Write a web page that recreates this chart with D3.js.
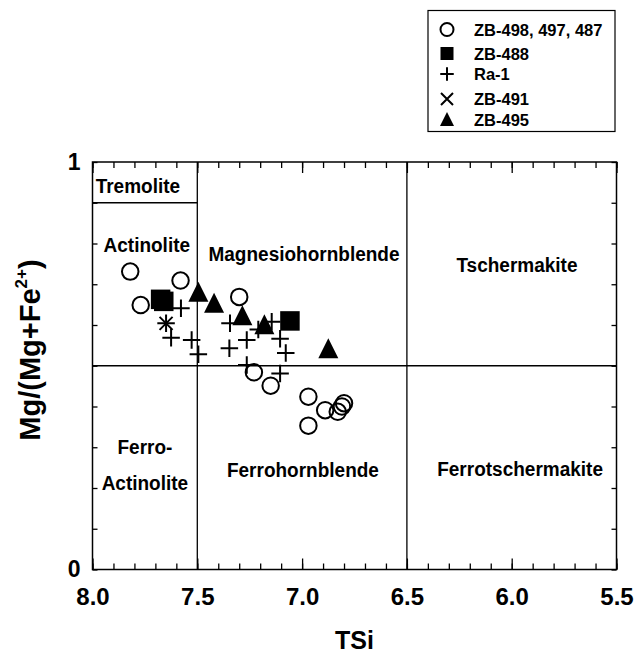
<!DOCTYPE html>
<html>
<head>
<meta charset="UTF-8">
<style>
  body { margin: 0; background: #ffffff; }
  svg text { font-family: "Liberation Sans", Arial, sans-serif; font-weight: bold; fill: #000; }
</style>
<script src="https://cdn.jsdelivr.net/npm/d3@7"></script>
</head>
<body>
<svg id="chart" width="641" height="653"></svg>
<script>
// ---- data (TSi, Mg/(Mg+Fe2+)) ----
// ZB-498, 497, 487  (open circles)
const circleTSi = [7.82, 7.77, 7.58, 7.30, 7.23, 7.15, 6.97, 6.97, 6.89, 6.83, 6.81, 6.80];
const circleMg  = [0.731, 0.649, 0.709, 0.669, 0.484, 0.451, 0.424, 0.353, 0.391, 0.387, 0.400, 0.408];
// ZB-488 (filled squares)
const squareTSi = [7.675, 7.66, 7.058];
const squareMg  = [0.663, 0.658, 0.610];
// Ra-1 (plus)
const plusTSi = [7.578, 7.625, 7.527, 7.495, 7.344, 7.347, 7.264, 7.209, 7.145, 7.105, 7.078, 7.264, 7.105, 7.649];
const plusMg  = [0.641, 0.569, 0.563, 0.528, 0.604, 0.543, 0.563, 0.589, 0.608, 0.566, 0.531, 0.502, 0.481, 0.604];
// ZB-491 (cross)
const crossTSi = [7.649];
const crossMg  = [0.604];
// ZB-495 (filled triangles)
const triTSi = [7.495, 7.42, 7.285, 7.18, 6.875];
const triMg  = [0.678, 0.651, 0.620, 0.598, 0.539];

// axis ticks
const xTickLabels = [8.0, 7.5, 7.0, 6.5, 6.0, 5.5];
const yTickLabels = [0, 1];

// field boundaries [x1, y1, x2, y2]
const fieldLines = [[7.5, 0, 7.5, 1], [6.5, 0, 6.5, 1], [8.0, 0.5, 5.5, 0.5], [8.0, 0.9, 7.5, 0.9]];
// field names and where they sit
const fieldNames = ["Tremolite", "Actinolite", "Magnesiohornblende", "Tschermakite", "Ferro-", "Actinolite", "Ferrohornblende", "Ferrotschermakite"];
const fieldPos = [[7.985, 0.925, "start"], [7.741, 0.780, "middle"], [6.991, 0.756, "middle"], [5.975, 0.731, "middle"],
                  [7.75, 0.283, "middle"], [7.75, 0.195, "middle"], [6.996, 0.227, "middle"], [5.96, 0.229, "middle"]];

const legendNames = ["ZB-498, 497, 487", "ZB-488", "Ra-1", "ZB-491", "ZB-495"];

const svg = d3.select("#chart");
const pLeft = 92.5, pRight = 616.5, pTop = 162, pBottom = 569.5;

const x = d3.scaleLinear().domain([8.0, 5.5]).range([pLeft, pRight]);
const y = d3.scaleLinear().domain([0, 1]).range([pBottom, pTop]);

// field lines
svg.append("g").selectAll("line").data(fieldLines).enter().append("line")
  .attr("x1", d => x(d[0])).attr("y1", d => y(d[1]))
  .attr("x2", d => x(d[2])).attr("y2", d => y(d[3]))
  .attr("stroke", "#000").attr("stroke-width", 1.3);

// ticks, all pointing inward
const minorX = d3.range(80, 54, -1).map(v => v / 10);
const minorY = d3.range(0, 11).map(v => v / 10);

function noLabel(ax) { return ax.tickFormat(""); }

svg.append("g").attr("transform", "translate(0," + pBottom + ")")
  .call(noLabel(d3.axisBottom(x).tickValues(minorX).tickSize(-6)));
svg.append("g").attr("transform", "translate(0," + pBottom + ")")
  .call(d3.axisBottom(x).tickValues(xTickLabels).tickSize(-11).tickPadding(18).tickFormat(d3.format(".1f")))
  .selectAll("text").attr("font-size", 24);
svg.append("g").attr("transform", "translate(0," + pTop + ")")
  .call(noLabel(d3.axisTop(x).tickValues(minorX).tickSize(-6)));
svg.append("g").attr("transform", "translate(0," + pTop + ")")
  .call(noLabel(d3.axisTop(x).tickValues(xTickLabels).tickSize(-11)));
svg.append("g").attr("transform", "translate(" + pLeft + ",0)")
  .call(noLabel(d3.axisLeft(y).tickValues(minorY).tickSize(-5)));
svg.append("g").attr("transform", "translate(" + pLeft + ",0)")
  .call(d3.axisLeft(y).tickValues(yTickLabels).tickSize(0).tickPadding(12).tickFormat(d3.format("d")))
  .selectAll("text").attr("font-size", 23);
svg.append("g").attr("transform", "translate(" + pRight + ",0)")
  .call(noLabel(d3.axisRight(y).tickValues(minorY).tickSize(-5)));

svg.selectAll(".domain").remove();
svg.selectAll(".tick line").attr("stroke", "#000").attr("stroke-width", 1.3);
svg.selectAll(".tick text").attr("fill", "#000").style("font-family", "'Liberation Sans', Arial, sans-serif").style("font-weight", "bold");

// frame
svg.append("rect").attr("x", pLeft).attr("y", pTop).attr("width", pRight - pLeft).attr("height", pBottom - pTop)
  .attr("fill", "none").attr("stroke", "#000").attr("stroke-width", 1.5);

// field names (the original lettering is a bit taller than Arial)
svg.append("g").selectAll("text").data(fieldNames).enter().append("text")
  .attr("transform", (d, i) => "translate(" + x(fieldPos[i][0]) + "," + y(fieldPos[i][1]) + ") scale(1,1.1)")
  .attr("text-anchor", (d, i) => fieldPos[i][2])
  .attr("font-size", 19).text(d => d);

// axis titles
svg.append("text").attr("x", (pLeft + pRight) / 2).attr("y", 649).attr("text-anchor", "middle")
  .attr("font-size", 25).text("TSi");
const yt = svg.append("text").attr("transform", "translate(40,350) rotate(-90)")
  .attr("text-anchor", "middle").attr("font-size", 29);
yt.append("tspan").text("Mg/(Mg+Fe");
yt.append("tspan").attr("font-size", 17).attr("dy", -13).text("2+");
yt.append("tspan").attr("dy", 13).text(")");

// marker shapes
function plusPath(s) { const h = s / 2; return "M" + (-h) + ",0H" + h + "M0," + (-h) + "V" + h; }
function crossPath(s) { const h = s / 2; return "M" + (-h) + "," + (-h) + "L" + h + "," + h + "M" + (-h) + "," + h + "L" + h + "," + (-h); }
function triPath(s) { const h = s / 2; return "M0," + (-h * 1.15) + "L" + h + "," + (h * 0.85) + "L" + (-h) + "," + (h * 0.85) + "Z"; }

const marks = svg.append("g");
function drawSeries(xs, ys, kind, size, g) {
  const pts = xs.map((v, i) => [v, ys[i]]);
  const sel = g.selectAll(null).data(pts).enter();
  if (kind === "circle") {
    sel.append("circle").attr("cx", d => x(d[0])).attr("cy", d => y(d[1])).attr("r", size / 2)
      .attr("fill", "none").attr("stroke", "#000").attr("stroke-width", 2);
  } else if (kind === "square") {
    sel.append("rect").attr("x", d => x(d[0]) - size / 2).attr("y", d => y(d[1]) - size / 2)
      .attr("width", size).attr("height", size).attr("fill", "#000");
  } else if (kind === "triangle") {
    sel.append("path").attr("transform", d => "translate(" + x(d[0]) + "," + y(d[1]) + ")")
      .attr("d", triPath(size)).attr("fill", "#000");
  } else {
    sel.append("path").attr("transform", d => "translate(" + x(d[0]) + "," + y(d[1]) + ")")
      .attr("d", kind === "plus" ? plusPath(size) : crossPath(size))
      .attr("fill", "none").attr("stroke", "#000").attr("stroke-width", 2);
  }
}
drawSeries(circleTSi, circleMg, "circle", 16.5, marks);
drawSeries(squareTSi, squareMg, "square", 19.5, marks);
drawSeries(plusTSi, plusMg, "plus", 17.5, marks);
drawSeries(crossTSi, crossMg, "cross", 13, marks);
drawSeries(triTSi, triMg, "triangle", 20, marks);

// legend
const lg = svg.append("g");
lg.append("rect").attr("x", 428).attr("y", 10.5).attr("width", 187).attr("height", 121)
  .attr("fill", "#fff").attr("stroke", "#000").attr("stroke-width", 1.2);
const legendKinds = ["circle", "square", "plus", "cross", "triangle"];
const legendSizes = [13, 13, 13.5, 12, 14];
const legendRowY = [29.5, 53.5, 74, 99, 120];
legendNames.forEach((name, i) => {
  const row = lg.append("g").attr("transform", "translate(447," + legendRowY[i] + ")");
  const k = legendKinds[i], s = legendSizes[i];
  if (k === "circle") row.append("circle").attr("r", s / 2).attr("fill", "none").attr("stroke", "#000").attr("stroke-width", 2);
  else if (k === "square") row.append("rect").attr("x", -s / 2).attr("y", -s / 2).attr("width", s).attr("height", s).attr("fill", "#000");
  else if (k === "triangle") row.append("path").attr("d", triPath(s)).attr("fill", "#000");
  else row.append("path").attr("d", k === "plus" ? plusPath(s) : crossPath(s)).attr("fill", "none").attr("stroke", "#000").attr("stroke-width", 2);
  row.append("text").attr("x", 27).attr("y", 6).attr("font-size", 16.5).text(name);
});
</script>
</body>
</html>
